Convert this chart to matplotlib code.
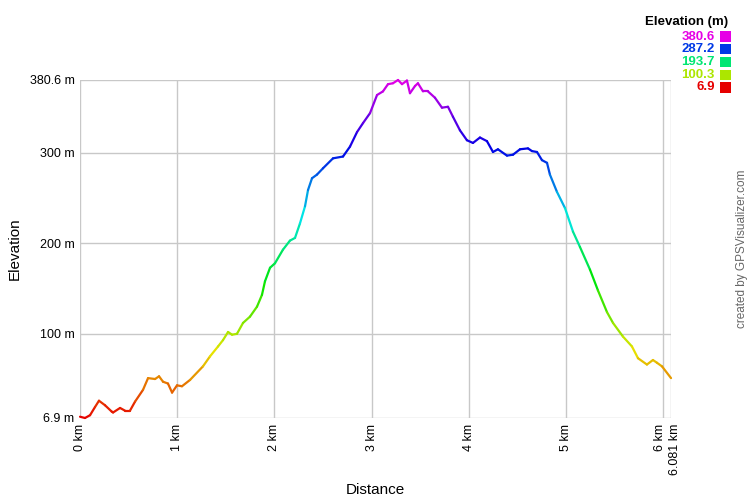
import colorsys

import matplotlib
matplotlib.use("Agg")
import matplotlib.pyplot as plt
import matplotlib.transforms as mtransforms
import numpy as np
from matplotlib.collections import LineCollection

plt.rcParams["font.family"] = ["Liberation Sans", "DejaVu Sans"]

distance_km = [
    0.000, 0.051, 0.103, 0.154, 0.195, 0.257, 0.326, 0.340, 0.412, 0.463,
    0.514, 0.566, 0.648, 0.700, 0.772, 0.813, 0.854, 0.905, 0.947, 0.998,
    1.049, 1.132, 1.265, 1.337, 1.420, 1.471, 1.523, 1.564, 1.615, 1.677,
    1.749, 1.821, 1.872, 1.903, 1.955, 2.006, 2.088, 2.160, 2.212, 2.263,
    2.315, 2.346, 2.387, 2.438, 2.500, 2.603, 2.706, 2.778, 2.850, 2.912,
    2.984, 3.056, 3.117, 3.169, 3.220, 3.272, 3.313, 3.364, 3.395, 3.447,
    3.477, 3.529, 3.580, 3.652, 3.724, 3.786, 3.837, 3.909, 3.981, 4.043,
    4.115, 4.187, 4.249, 4.300, 4.393, 4.455, 4.527, 4.609, 4.650, 4.702,
    4.753, 4.805, 4.835, 4.907, 4.990, 5.072, 5.144, 5.247, 5.329, 5.422,
    5.484, 5.586, 5.679, 5.741, 5.833, 5.895, 5.936, 5.988, 6.081,
]
elevation_m = [
    8.3, 6.9, 10, 19, 26, 21, 14, 13, 18, 15,
    15, 25, 38, 51, 50, 53, 47, 45, 35, 43,
    42, 49, 64, 75, 86, 93, 102, 99, 100, 112,
    119, 130, 143, 158, 173, 178, 193, 203, 206, 222,
    241, 259, 272, 276, 283, 294, 296, 307, 323, 333,
    344, 364, 368, 376, 377, 380.6, 376, 380, 366, 374,
    377, 368, 368, 361, 350, 351, 340, 325, 314, 311,
    317, 313, 301, 304, 297, 298, 304, 305, 302, 301,
    292, 289, 276, 257, 239, 213, 196, 171, 148, 124,
    112, 97, 86, 73, 66, 71, 68, 64, 51,
]

legend_values = [380.6, 287.2, 193.7, 100.3, 6.9]
y_ticks = [6.9, 100, 200, 300, 380.6]
y_tick_labels = ["6.9 m", "100 m", "200 m", "300 m", "380.6 m"]
x_ticks = [0, 1, 2, 3, 4, 5, 6, 6.081]
x_tick_labels = ["0 km", "1 km", "2 km", "3 km", "4 km", "5 km", "6 km", "6.081 km"]

E_MIN, E_MAX = 6.9, 380.6


def elevation_color(value):
    frac = (value - E_MIN) / (E_MAX - E_MIN)
    return colorsys.hsv_to_rgb(frac * 300 / 360, 1.0, 0.9)


def main():
    fig = plt.figure(figsize=(7.5, 5), dpi=100)
    ax = fig.add_axes([0.1067, 0.164, 0.788, 0.676])

    x = np.array(distance_km)
    y = np.array(elevation_m)
    points = np.column_stack([x, y]).reshape(-1, 1, 2)
    segments = np.concatenate([points[:-1], points[1:]], axis=1)
    colors = [elevation_color((a + b) / 2) for a, b in zip(y[:-1], y[1:])]
    lines = LineCollection(segments, colors=colors, linewidths=1.6, capstyle="round",
                           joinstyle="round", clip_on=False, zorder=3)
    ax.add_collection(lines)

    ax.set_xlim(0, 6.081)
    ax.set_ylim(E_MIN, E_MAX)
    for side in ax.spines.values():
        side.set_visible(False)

    ax.set_yticks(y_ticks)
    ax.set_yticklabels(y_tick_labels, fontsize=9)
    ax.set_xticks(x_ticks)
    ax.set_xticklabels(x_tick_labels, fontsize=9, rotation=90, va="top", ha="center")
    ax.tick_params(length=0, pad=4)
    ax.grid(True, color="#c8c8c8", linewidth=1)
    ax.set_axisbelow(True)

    # push the last two distance labels apart a little, as in the original
    labels = ax.get_xticklabels()
    labels[-2].set_transform(labels[-2].get_transform()
                             + mtransforms.ScaledTranslation(-2 / 72, 0, fig.dpi_scale_trans))
    labels[-1].set_transform(labels[-1].get_transform()
                             + mtransforms.ScaledTranslation(3 / 72, 0, fig.dpi_scale_trans))

    ax.set_ylabel("Elevation", fontsize=11, labelpad=6)
    fig.text(0.5, 0.02, "Distance", fontsize=11, ha="center", va="center")

    fig.text(0.971, 0.957, "Elevation (m)", fontsize=9.5, fontweight="bold",
             ha="right", va="center")
    for i, value in enumerate(legend_values):
        yy = 0.927 - i * 0.0254
        fig.text(0.953, yy, f"{value:.1f}", fontsize=9.5, fontweight="bold",
                 color=elevation_color(value), ha="right", va="center")
        fig.patches.append(plt.Rectangle((0.960, yy - 0.0105), 0.0147, 0.0205,
                                         transform=fig.transFigure,
                                         color=elevation_color(value), linewidth=0))

    fig.text(0.990, 0.502, "created by GPSVisualizer.com", fontsize=8.5, color="#666666",
             rotation=90, ha="center", va="center")

    fig.savefig("out.png", dpi=100)
    plt.close(fig)


if __name__ == "__main__":
    main()
